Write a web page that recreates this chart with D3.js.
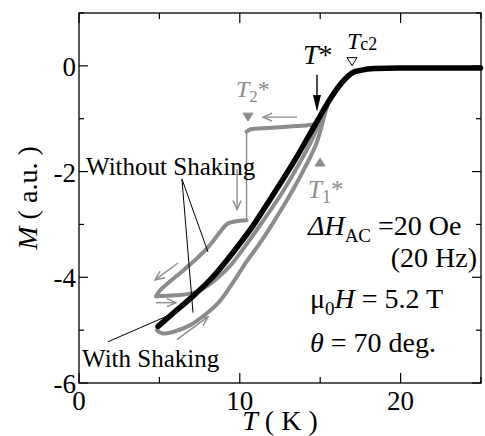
<!DOCTYPE html>
<html>
<head>
<meta charset="utf-8">
<script src="https://cdn.jsdelivr.net/npm/d3@7"></script>
<style>
  body { margin: 0; background: #fff; }
  text { font-family: "Liberation Serif", "Times New Roman", serif; }
</style>
</head>
<body>
<div class="chart"></div>
<script>
// data: [T (K), M (a.u.)]
const withShaking = [
  [4.91, -4.93], [5.85, -4.68], [6.97, -4.39], [8.33, -3.99], [9.58, -3.53],
  [10.67, -3.09], [11.75, -2.59], [13.43, -1.78], [14.86, -1.02], [15.59, -0.64],
  [16.40, -0.30], [17.02, -0.13], [17.58, -0.08], [18.39, -0.05], [19.94, -0.04], [24.97, -0.04]
];
// cooling without shaking, above and below the jump at T2*
const coolHigh = [
  [24.97, -0.04], [19.94, -0.04], [18.39, -0.05], [17.58, -0.08], [17.02, -0.13], [16.40, -0.30],
  [15.59, -0.64], [15.0, -0.98], [14.86, -1.08], [14.3, -1.12], [13.52, -1.14], [11.45, -1.18],
  [10.7, -1.2], [10.42, -1.245]
];
const coolJump = [[10.42, -1.245], [10.42, -2.92]];
const coolLow = [
  [10.42, -2.92], [9.27, -2.98], [8.86, -3.11], [8.03, -3.43], [7.20, -3.68],
  [6.48, -3.87], [5.03, -4.25], [4.80, -4.36]
];
// warming without shaking (two runs)
const warmA = [
  [4.80, -4.36], [5.96, -4.34], [7.08, -4.30], [7.95, -4.17], [8.63, -4.01], [9.38, -3.79],
  [10.31, -3.42], [11.43, -2.94], [12.61, -2.41], [13.73, -1.83], [14.53, -1.37], [14.91, -1.10],
  [15.59, -0.64]
];
const warmB = [
  [4.84, -5.00], [5.16, -5.06], [5.78, -5.04], [6.89, -4.91], [7.95, -4.68], [8.76, -4.45],
  [9.57, -4.10], [10.43, -3.70], [11.24, -3.36], [12.05, -2.98], [13.11, -2.45], [14.04, -1.93],
  [14.72, -1.50], [15.03, -1.21], [15.3, -0.9], [15.59, -0.64]
];
const xTicks = [0, 10, 20];
const xMinor = [5, 15, 25];
const yTicks = [-6, -4, -2, 0];
const yMinor = [-5, -3, -1, 1];

const width = 485, height = 436;
const margin = { left: 79, right: 4, top: 13, bottom: 53 };
const gray = "#8c8c8c";

const svg = d3.select(".chart").append("svg")
  .attr("width", width)
  .attr("height", height);

const x = d3.scaleLinear().domain([0, 25]).range([margin.left, width - margin.right]);
const y = d3.scaleLinear().domain([-6, 1]).range([height - margin.bottom, margin.top]);

// frame
svg.append("rect")
  .attr("x", x(0)).attr("y", y(1))
  .attr("width", x(25) - x(0)).attr("height", y(-6) - y(1))
  .attr("fill", "none").attr("stroke", "#000").attr("stroke-width", 1.3);

// inward ticks on all sides
const tk = svg.append("g").attr("stroke", "#000").attr("stroke-width", 1.2);
xTicks.concat(xMinor).forEach(t => {
  const len = xTicks.includes(t) ? 10 : 6;
  tk.append("line").attr("x1", x(t)).attr("x2", x(t)).attr("y1", y(-6)).attr("y2", y(-6) - len);
  tk.append("line").attr("x1", x(t)).attr("x2", x(t)).attr("y1", y(1)).attr("y2", y(1) + len);
});
yTicks.concat(yMinor).forEach(v => {
  const len = yTicks.includes(v) ? 9 : 5;
  tk.append("line").attr("x1", x(0)).attr("x2", x(0) + len).attr("y1", y(v)).attr("y2", y(v));
  tk.append("line").attr("x1", x(25)).attr("x2", x(25) - len).attr("y1", y(v)).attr("y2", y(v));
});

svg.append("g").selectAll("text").data(xTicks).join("text")
  .attr("x", d => x(d)).attr("y", y(-6) + 27)
  .attr("text-anchor", "middle").attr("font-size", 27).text(d => d);
svg.append("g").selectAll("text").data(yTicks).join("text")
  .attr("x", x(0) - 3).attr("y", d => y(d) + 10)
  .attr("text-anchor", "end").attr("font-size", 27).text(d => d);

// axis titles
const xt = svg.append("text").attr("x", (x(0) + x(25)) / 2).attr("y", 430)
  .attr("text-anchor", "middle").attr("font-size", 28);
xt.append("tspan").attr("font-style", "italic").text("T");
xt.append("tspan").text(" ( K )");
const yt = svg.append("text")
  .attr("transform", `translate(37,${(y(-6) + y(1)) / 2}) rotate(-90)`)
  .attr("text-anchor", "middle").attr("font-size", 28);
yt.append("tspan").attr("font-style", "italic").text("M");
yt.append("tspan").text(" ( a.u. )");

// curves
const smooth = d3.line().x(d => x(d[0])).y(d => y(d[1])).curve(d3.curveCatmullRom.alpha(0.5));
const straight = d3.line().x(d => x(d[0])).y(d => y(d[1]));

[warmB, warmA, coolHigh, coolLow].forEach(s => {
  svg.append("path").attr("d", smooth(s))
    .attr("fill", "none").attr("stroke", gray).attr("stroke-width", 4)
    .attr("stroke-linejoin", "round").attr("stroke-linecap", "round");
});
svg.append("path").attr("d", straight(coolJump))
  .attr("fill", "none").attr("stroke", gray).attr("stroke-width", 1.4);

svg.append("path").attr("d", d3.line().x(d => x(d[0])).y(d => y(d[1])).curve(d3.curveMonotoneX)(withShaking))
  .attr("fill", "none").attr("stroke", "#000").attr("stroke-width", 5.5)
  .attr("stroke-linecap", "round");

// open gray arrows
function arrow(t1, m1, t2, m2) {
  const x1 = x(t1), y1 = y(m1), x2 = x(t2), y2 = y(m2);
  const a = Math.atan2(y2 - y1, x2 - x1), h = 10, w = 0.42;
  const g = svg.append("g").attr("stroke", gray).attr("stroke-width", 1.4).attr("fill", "none");
  g.append("line").attr("x1", x1).attr("y1", y1).attr("x2", x2).attr("y2", y2);
  g.append("path").attr("d",
    `M${x2 - h * Math.cos(a - w)},${y2 - h * Math.sin(a - w)}L${x2},${y2}L${x2 - h * Math.cos(a + w)},${y2 - h * Math.sin(a + w)}`);
}
arrow(13.56, -0.97, 11.44, -0.97);
arrow(9.83, -1.95, 9.83, -2.72);
arrow(6.16, -3.73, 4.73, -4.05);
arrow(4.79, -4.48, 6.03, -4.48);
arrow(6.09, -5.18, 8.02, -4.75);

// T* arrow (black, filled head)
svg.append("line").attr("x1", x(14.8)).attr("x2", x(14.8))
  .attr("y1", y(-0.17)).attr("y2", y(-0.6)).attr("stroke", "#000").attr("stroke-width", 1.4);
svg.append("path")
  .attr("d", `M${x(14.8) - 4},${y(-0.55)}L${x(14.8) + 4},${y(-0.55)}L${x(14.8)},${y(-0.87)}Z`)
  .attr("fill", "#000");

// triangle markers
const tri = (t, m, dir, fill, stroke) => {
  const cx = x(t), cy = y(m), s = dir === "down" ? 1 : -1;
  svg.append("path")
    .attr("d", `M${cx - 5},${cy - 4 * s}L${cx + 5},${cy - 4 * s}L${cx},${cy + 4 * s}Z`)
    .attr("fill", fill).attr("stroke", stroke).attr("stroke-width", 1);
};
tri(10.51, -0.97, "down", gray, gray);
tri(14.99, -1.82, "up", gray, gray);
tri(16.98, 0.08, "down", "#fff", "#000");

// labels
function label(t, m, size, color, parts, anchor) {
  const el = svg.append("text").attr("x", x(t)).attr("y", y(m))
    .attr("font-size", size).attr("fill", color).attr("text-anchor", anchor || "start");
  parts.forEach(p => {
    const ts = el.append("tspan").text(p.s);
    if (p.i) ts.attr("font-style", "italic");
    if (p.sub) ts.attr("font-size", p.sub).attr("dy", p.dy);
    if (p.back) ts.attr("dy", p.back);
  });
  return el;
}
label(13.93, 0.04, 28, "#000", [{ s: "T", i: 1 }, { s: "*" }]);
label(16.66, 0.32, 24, "#000", [{ s: "T", i: 1 }, { s: "c2", sub: 18, dy: 1 }]);
label(9.76, -0.59, 24, gray, [{ s: "T", i: 1 }, { s: "2", sub: 17, dy: 5 }, { s: "*", back: -5 }]);
label(14.24, -2.5, 25, gray, [{ s: "T", i: 1 }, { s: "1", sub: 18, dy: 5 }, { s: "*", back: -5 }]);

label(14.24, -3.2, 28, "#000", [{ s: "ΔH", i: 1 }, { s: "AC", sub: 19, dy: 7 }, { s: " =20 Oe", back: -7 }]);
label(24.75, -3.8, 28, "#000", [{ s: "(20 Hz)" }], "end");
label(14.37, -4.58, 28, "#000", [{ s: "μ" }, { s: "0", sub: 19, dy: 7 }, { s: "H", i: 1, back: -7 }, { s: " = 5.2 T" }]);
label(14.37, -5.41, 28, "#000", [{ s: "θ", i: 1 }, { s: " = 70 deg." }]);

label(0.44, -2.06, 25, "#000", [{ s: "Without Shaking" }]);
label(0.19, -5.7, 25, "#000", [{ s: "With Shaking" }]);

// pointer lines
const ptr = svg.append("g").attr("stroke", "#000").attr("stroke-width", 1);
[[6.4, -2.14, 8.02, -3.52], [6.4, -2.14, 7.09, -4.67], [1.8, -5.22, 5.66, -4.71]].forEach(p => {
  ptr.append("line").attr("x1", x(p[0])).attr("y1", y(p[1])).attr("x2", x(p[2])).attr("y2", y(p[3]));
});
</script>
</body>
</html>
